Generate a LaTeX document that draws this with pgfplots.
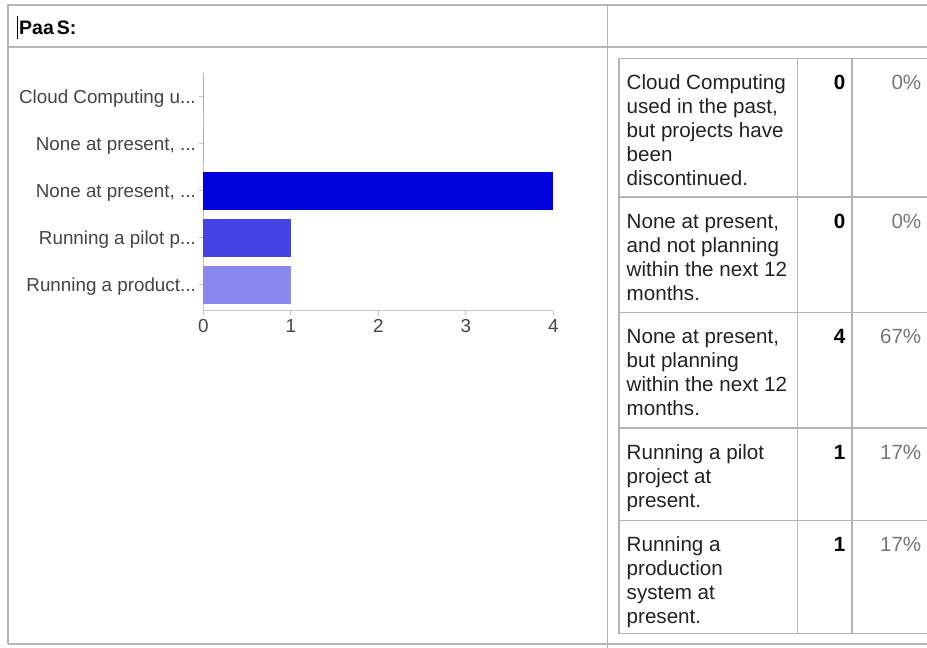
\documentclass[border=0pt]{standalone}
\usepackage{fontspec}
\setmainfont{Liberation Sans}
\usepackage{pgfplots}
\pgfplotsset{compat=1.18}

\definecolor{barA}{HTML}{0000DD}
\definecolor{barB}{HTML}{4444E4}
\definecolor{barC}{HTML}{8888EE}
\definecolor{rule}{HTML}{B4B4B4}
\definecolor{axisgrey}{HTML}{C4C4C4}
\definecolor{labelgrey}{HTML}{444444}
\definecolor{pctgrey}{HTML}{777777}
\definecolor{cellink}{HTML}{222222}

\newcommand\chartfont{\fontsize{18.8}{22}\selectfont}
\newcommand\cellfont{\fontsize{20.6}{24}\selectfont}
% three periods for truncated labels (kept out of pgffor's list parsing)
\newcommand\tdots{...}
% one line of text in the answer column, placed by its baseline (measured from the top)
\newcommand\cl[2]{\node[anchor=base west, inner sep=0pt, font=\cellfont, text=cellink] at (626.5,{648-#1}) {#2};}
% count and share for a row
\newcommand\cnt[3]{%
  \node[anchor=base east, inner sep=0pt, font=\cellfont\bfseries, text=black] at (845.5,{648-#1}) {#2};
  \node[anchor=base east, inner sep=0pt, font=\cellfont, text=pctgrey] at (921.5,{648-#1}) {#3};}

\begin{document}
\begin{tikzpicture}[x=1pt,y=1pt]
\useasboundingbox (0,0) rectangle (927,648);
\clip (0,0) rectangle (927,648);
\fill[white] (0,0) rectangle (927,648);

% outer frame of the question block
\begin{scope}[draw=rule, line width=1.3pt]
  \draw (8,{648-644}) -- (8,{648-5}) -- (940,{648-5});
  \draw (8,{648-47}) -- (940,{648-47});
  \draw (8,{648-644}) -- (940,{648-644});
  \draw (607.7,{648-5}) -- (607.7,-5);
\end{scope}

% heading with the text cursor
\draw[black, line width=0.9pt] (17.5,{648-16}) -- (17.5,{648-39});
\node[anchor=base west, inner sep=0pt, font=\fontsize{19.5}{22}\selectfont\bfseries] at (19,{648-35}) {Paa\hspace{3pt}S:};

% corner of the chart's plot area
\coordinate (chartcorner) at (203.3,337.2);

% bar chart of the answers
\begin{axis}[
  at={(chartcorner)}, anchor=south west,
  scale only axis, width=350pt, height=238.8pt,
  xmin=0, xmax=4, ymin=-0.55, ymax=4.52,
  xbar, bar width=38pt, bar shift=0pt,
  axis x line*=bottom, axis y line*=left,
  axis line style={draw=axisgrey, line width=1pt},
  xtick={0,1,2,3,4}, ytick={0,1,2,3,4},
  yticklabels={{Running a product\tdots},{Running a pilot p\tdots},{None at present, \tdots},{None at present, \tdots},{Cloud Computing u\tdots}},
  tick style={draw=axisgrey, line width=0.8pt},
  major tick length=4pt, tick align=outside,
  ticklabel style={font=\chartfont, text=labelgrey},
  yticklabel style={yshift=-2pt},
  xticklabel style={yshift=-1pt},
  /pgf/number format/assume math mode=true,
  clip=false,
]
\addplot[fill=barC, draw=none] coordinates {(1,0)};
\addplot[fill=barB, draw=none] coordinates {(1,1)};
\addplot[fill=barA, draw=none] coordinates {(4,2)};
\addplot[fill=barA, draw=none] coordinates {(0,3)};
\addplot[fill=barA, draw=none] coordinates {(0,4)};
\end{axis}

% summary table
\begin{scope}[draw=rule, line width=1.3pt]
  \draw (940,{648-58.5}) -- (619,{648-58.5}) -- (619,{648-633.5}) -- (940,{648-633.5});
  \draw (797.5,{648-58.5}) -- (797.5,{648-633.5});
  \draw (852,{648-58.5}) -- (852,{648-633.5});
  \foreach \r in {197,312.5,428,520.5} \draw (619,{648-\r}) -- (940,{648-\r});
\end{scope}

\cl{90}{Cloud Computing}
\cl{114}{used in the past,}
\cl{138}{but projects have}
\cl{162}{been}
\cl{186}{discontinued.}
\cnt{90}{0}{0\%}

\cl{228.5}{None at present,}
\cl{252.5}{and not planning}
\cl{276.5}{within the next 12}
\cl{300.5}{months.}
\cnt{228.5}{0}{0\%}

\cl{344}{None at present,}
\cl{368}{but planning}
\cl{392}{within the next 12}
\cl{416}{months.}
\cnt{344}{4}{67\%}

\cl{459.5}{Running a pilot}
\cl{483.5}{project at}
\cl{507.5}{present.}
\cnt{459.5}{1}{17\%}

\cl{552}{Running a}
\cl{576}{production}
\cl{600}{system at}
\cl{624}{present.}
\cnt{552}{1}{17\%}

\end{tikzpicture}
\end{document}
